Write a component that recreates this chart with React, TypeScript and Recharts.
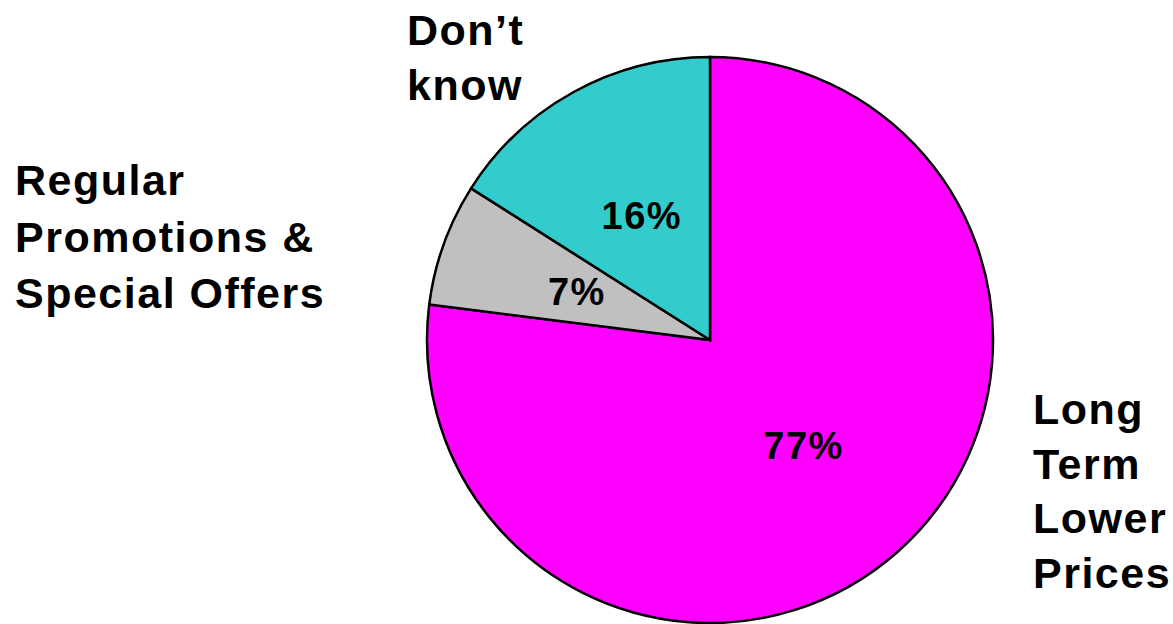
import React from "react";
import { PieChart, Pie, Cell } from "recharts";

const categories = ["Long Term Lower Prices", "Regular Promotions & Special Offers", "Don't know"];
const values = [77, 7, 16];
const percentLabels = ["77%", "7%", "16%"];
const nameLines = [
  ["Long", "Term", "Lower", "Prices"],
  ["Regular", "Promotions &", "Special Offers"],
  ["Don\u2019t", "know"],
];
const colors = ["#FF00FF", "#C0C0C0", "#33CCCC"];

const data = categories.map((name, i) => ({ name, value: values[i] }));

// label layout: offsets from pie center (left x, first baseline, line spacing)
const nameLayout = [
  { dx: 323, dy: 84, lh: 54.7 },
  { dx: -695, dy: -145, lh: 56.5 },
  { dx: -303, dy: -295, lh: 55 },
];

const FONT = "'Liberation Sans', Arial, sans-serif";
const RAD = Math.PI / 180;

const renderLabel = (props: any) => {
  const { cx, cy, midAngle, outerRadius, index } = props;
  const r = outerRadius * 0.5;
  const x = cx + r * Math.cos(-midAngle * RAD);
  const y = cy + r * Math.sin(-midAngle * RAD);
  const lay = nameLayout[index];
  return (
    <g key={`lbl-${index}`}>
      <text
        x={x}
        y={y}
        textAnchor="middle"
        dominantBaseline="central"
        fontFamily={FONT}
        fontWeight="bold"
        fontSize={38}
        letterSpacing={1.5}
        fill="#000"
      >
        {percentLabels[index]}
      </text>
      {nameLines[index].map((line, j) => (
        <text
          key={j}
          x={cx + lay.dx}
          y={cy + lay.dy + j * lay.lh}
          textAnchor="start"
          fontFamily={FONT}
          fontWeight="bold"
          fontSize={43}
          letterSpacing={1.5}
          fill="#000"
        >
          {line}
        </text>
      ))}
    </g>
  );
};

export default function App() {
  return (
    <div style={{ position: "absolute", left: 0, top: 0, width: 1173, height: 624, background: "#fff" }}>
      <PieChart width={1173} height={624} margin={{ top: 0, right: 0, bottom: 0, left: 0 }}>
        <Pie
          data={data}
          dataKey="value"
          nameKey="name"
          cx={710}
          cy={340}
          outerRadius={283}
          startAngle={90}
          endAngle={-270}
          stroke="#000"
          strokeWidth={2}
          label={renderLabel}
          labelLine={false}
          isAnimationActive={false}
        >
          {data.map((d, i) => (
            <Cell key={d.name} fill={colors[i]} stroke="#000" strokeWidth={2.5} />
          ))}
        </Pie>
      </PieChart>
    </div>
  );
}
